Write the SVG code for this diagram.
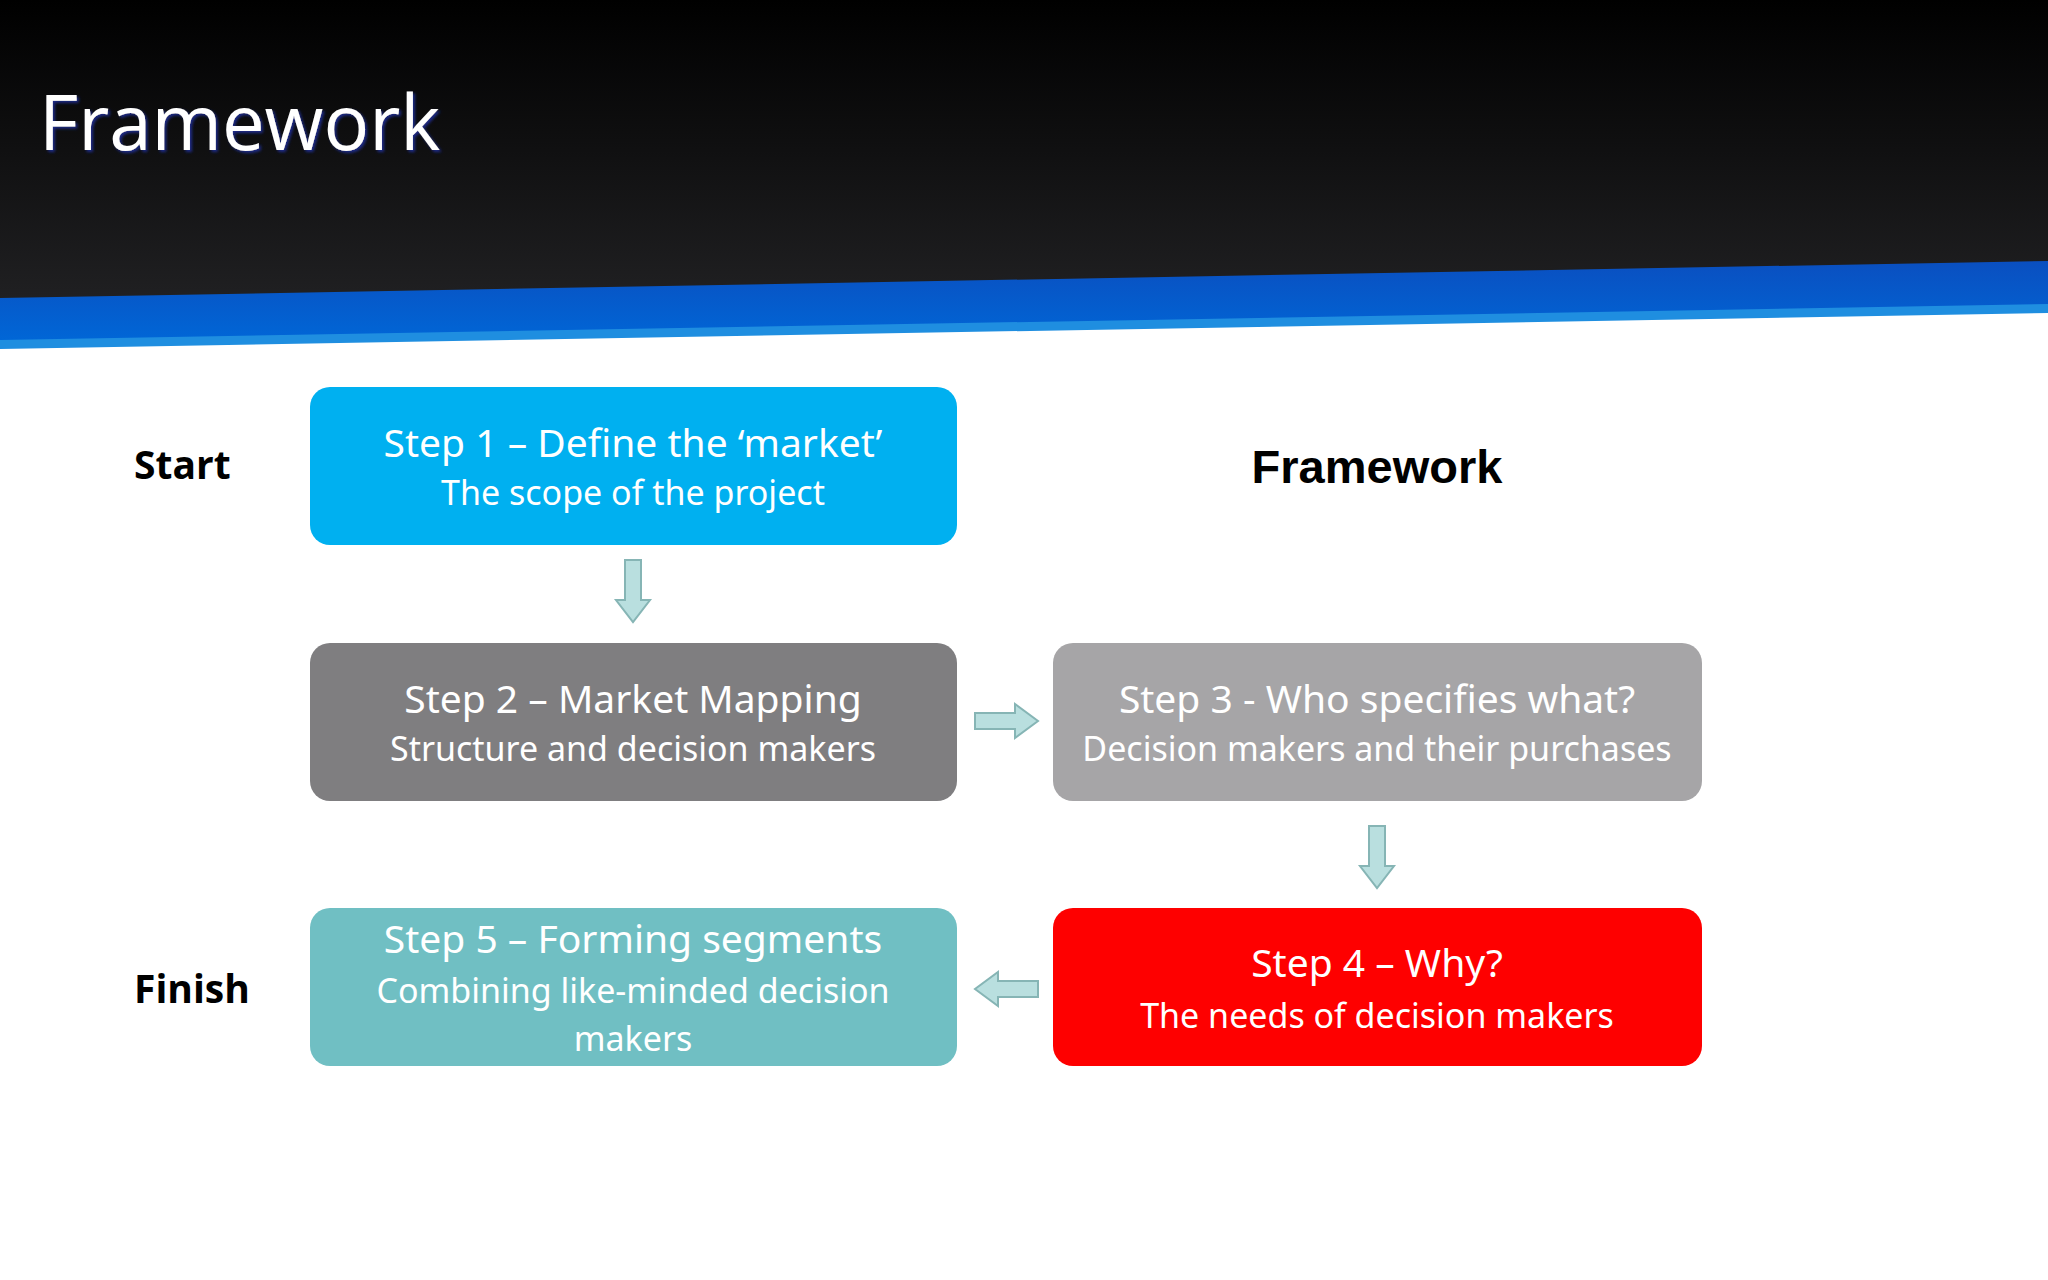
<svg xmlns="http://www.w3.org/2000/svg" width="2048" height="1280" viewBox="0 0 2048 1280">
<defs>
<linearGradient id="hdr" x1="0" y1="0" x2="0" y2="1"><stop offset="0" stop-color="#000"/><stop offset="1" stop-color="#202022"/></linearGradient>
<linearGradient id="band" x1="0" y1="0" x2="0" y2="1"><stop offset="0" stop-color="#0a4fc0"/><stop offset="1" stop-color="#0068d8"/></linearGradient>
<filter id="sh"><feDropShadow dx="2" dy="2" stdDeviation="1.5" flood-color="#1a2a8a"/></filter>
</defs>
<style>
.t1{font-family:"Noto Sans","Open Sans",sans-serif;font-size:39px;fill:#fff;text-anchor:middle}
.t2{font-family:"Noto Sans","Open Sans",sans-serif;font-size:34px;fill:#fff;text-anchor:middle}
.lbl{font-family:"Open Sans","Noto Sans",sans-serif;font-weight:bold;font-size:39px;fill:#000}
.ar{fill:#b9dfdf;stroke:#86b5b5;stroke-width:2}
</style>
<rect width="2048" height="1280" fill="#fff"/>
<polygon points="0,0 2048,0 2048,262 0,300" fill="url(#hdr)"/>
<polygon points="0,298 2048,261 2048,310 0,346" fill="url(#band)"/>
<polygon points="0,340 2048,304 2048,313 0,349" fill="#1f8ee0"/>
<text x="39" y="150" font-family="'Open Sans','Noto Sans',sans-serif" font-size="76" fill="#fff" filter="url(#sh)">Framework</text>
<text x="134" y="479" class="lbl">Start</text>
<text x="134" y="1003" class="lbl">Finish</text>
<text x="1377" y="483" font-family="'Liberation Sans',Arial,sans-serif" font-weight="bold" font-size="47" text-anchor="middle">Framework</text>
<g id="step1"><rect x="310" y="387" width="647" height="158" rx="20" fill="#00b0f0"/><text x="633" y="457" class="t1">Step 1 – Define the ‘market’</text><text x="633" y="505" class="t2">The scope of the project</text></g>
<g id="step2"><rect x="310" y="643" width="647" height="158" rx="20" fill="#7f7e80"/><text x="633" y="713" class="t1">Step 2 – Market Mapping</text><text x="633" y="761" class="t2">Structure and decision makers</text></g>
<g id="step3"><rect x="1053" y="643" width="649" height="158" rx="20" fill="#a6a5a7"/><text x="1377" y="713" class="t1">Step 3 - Who specifies what?</text><text x="1377" y="761" class="t2">Decision makers and their purchases</text></g>
<g id="step4"><rect x="1053" y="908" width="649" height="158" rx="20" fill="#fe0000"/><text x="1377" y="977" class="t1">Step 4 – Why?</text><text x="1377" y="1028" class="t2">The needs of decision makers</text></g>
<g id="step5"><rect x="310" y="908" width="647" height="158" rx="20" fill="#70bfc3"/><text x="633" y="953" class="t1">Step 5 – Forming segments</text><text x="633" y="1003" class="t2">Combining like-minded decision</text><text x="633" y="1051" class="t2">makers</text></g>
<g id="connectors">
<polygon class="ar" points="625,560 641,560 641,600 650,600 633,622 616,600 625,600"/>
<polygon class="ar" points="975,713 1015,713 1015,704 1038,721 1015,738 1015,729 975,729"/>
<polygon class="ar" points="1369,826 1385,826 1385,866 1394,866 1377,888 1360,866 1369,866"/>
<polygon class="ar" points="1038,981 998,981 998,972 975,989 998,1006 998,997 1038,997"/>
</g>
</svg>
